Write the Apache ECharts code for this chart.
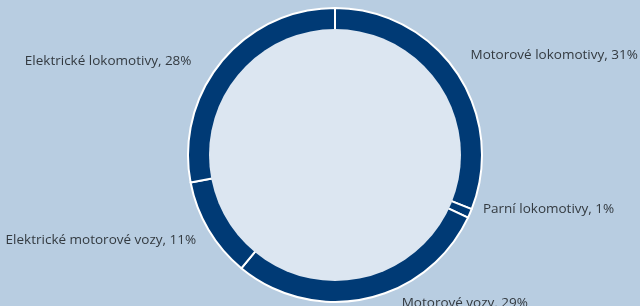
<!DOCTYPE html>
<html>
<head>
<meta charset="utf-8">
<script src="https://cdn.jsdelivr.net/npm/echarts@6/dist/echarts.min.js"></script>
<style>
html,body{margin:0;padding:0;background:#b8cde1;}
#c{width:640px;height:306px;}
</style>
</head>
<body>
<div id="c"></div>
<script>
const categories = ['Motorové lokomotivy', 'Parní lokomotivy', 'Motorové vozy', 'Elektrické motorové vozy', 'Elektrické lokomotivy'];
const shares = [31, 1, 29, 11, 28];
const labelShift = [[-5, -10], [-7, -9], [23, -7], [7, 4], [-12, 8]];

const chart = echarts.init(document.getElementById('c'), null, {renderer: 'canvas'});
chart.setOption({
  backgroundColor: '#b8cde1',
  animation: false,
  series: [
    {
      type: 'pie',
      center: [335, 155],
      radius: [124, 147],
      startAngle: 90,
      clockwise: true,
      avoidLabelOverlap: false,
      itemStyle: {color: '#003a75', borderColor: '#ffffff', borderWidth: 2},
      label: {
        show: true,
        position: 'outside',
        formatter: '{b}, {c}%',
        color: '#333a40',
        fontFamily: 'Open Sans',
        fontSize: 13.5
      },
      labelLine: {show: false, length: 12, length2: 4},
      labelLayout: function (p) {
        const s = labelShift[p.dataIndex] || [0, 0];
        return {dx: s[0], dy: s[1]};
      },
      emphasis: {disabled: true},
      data: categories.map((n, i) => ({name: n, value: shares[i]}))
    },
    {
      type: 'pie',
      center: [335, 155],
      radius: [0, 126],
      silent: true,
      label: {show: false},
      labelLine: {show: false},
      itemStyle: {color: '#dce6f1'},
      data: [{name: 'inner', value: 1}]
    }
  ]
});
</script>
</body>
</html>
